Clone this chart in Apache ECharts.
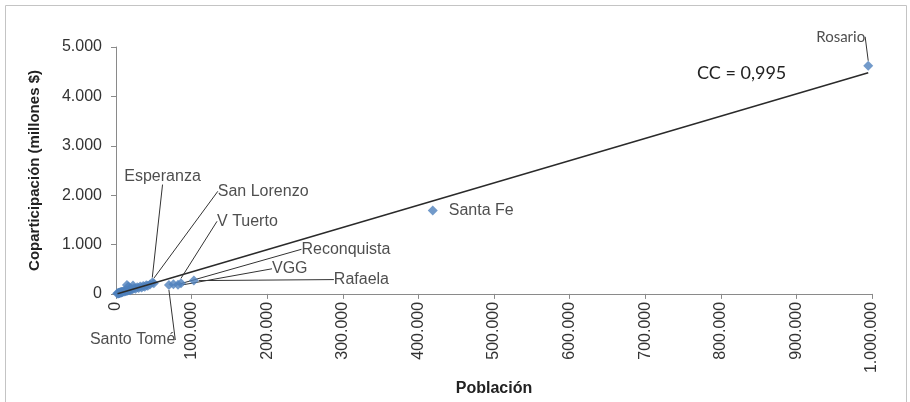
<!DOCTYPE html>
<html>
<head>
<meta charset="utf-8">
<script src="https://cdn.jsdelivr.net/npm/echarts@6/dist/echarts.min.js"></script>
<style>
  html, body { margin: 0; padding: 0; background: #fff; }
  #chart { width: 910px; height: 402px; }
</style>
</head>
<body>
<div id="chart"></div>
<script>
// municipios: poblacion / coparticipacion (millones $)
var cityNames = ['Rosario', 'Santa Fe', 'Rafaela', 'V Tuerto', 'VGG', 'Reconquista', 'Santo Tomé', 'San Lorenzo', 'Esperanza'];
var cityPop   = [995000, 419000, 103000, 86000, 82000, 76000, 70000, 50000, 48000];
var cityCopa  = [4620, 1690, 270, 215, 185, 195, 180, 215, 230];

// resto de localidades (sin etiqueta)
var otherPop  = [1500, 2500, 3000, 3500, 4000, 4500, 5000, 5500, 6000, 6500, 7000, 7500, 8000, 9000, 10000, 11000, 12000, 13000, 14000, 14500, 15000, 16000, 16500, 17000, 18000, 19000, 20000, 22000, 22500, 24000, 26000, 28000, 30000, 32000, 34000, 36000, 38000, 40000, 42000, 45000];
var otherCopa = [8, 15, 20, 10, 25, 18, 30, 22, 35, 28, 40, 30, 45, 38, 55, 48, 60, 52, 70, 180, 62, 80, 150, 75, 90, 72, 100, 95, 170, 115, 105, 135, 120, 150, 130, 160, 145, 175, 165, 190];

// linea de tendencia (extremos)
var trendPop  = [2000, 995000];
var trendCopa = [5, 4480];
var trendLabel = 'CC = 0,995';

var xTicksMax = 1000000, xInterval = 100000;
var yTicksMax = 5000, yInterval = 1000;

// desplazamiento de etiquetas (dx, dy)
var labelOffsets = {
    'Rosario': [-62, -29],
    'Santa Fe': [6, 0],
    'Rafaela': [130, -1],
    'V Tuerto': [26, -62],
    'VGG': [84, -16],
    'Reconquista': [118, -35],
    'Santo Tomé': [-89, 55],
    'San Lorenzo': [54, -92],
    'Esperanza': [-38, -106]
};

function fmtMiles(v) {
    return String(v).replace(/\B(?=(\d{3})+(?!\d))/g, '.');
}

var myChart = echarts.init(document.getElementById('chart'));

var blue = '#4F81BD';
var labelFont = 'Liberation Sans, Arial, sans-serif';

var namedData = cityNames.map(function (n, i) {
    var item = { name: n, value: [cityPop[i], cityCopa[i]] };
    if (n === 'Santa Fe') item.labelLine = { show: false };
    if (n === 'Rosario') item.label = { fontFamily: 'Lato', fontSize: 15 };
    return item;
});
var otherData = otherPop.map(function (p, i) { return [p, otherCopa[i]]; });

var option = {
    animation: false,
    grid: { left: 116, right: 38, top: 47, bottom: 104 },
    xAxis: {
        type: 'value',
        min: 0, max: xTicksMax, interval: xInterval,
        name: 'Población',
        nameLocation: 'middle',
        nameGap: 78,
        nameTextStyle: { fontFamily: labelFont, fontWeight: 'bold', fontSize: 16, color: '#222' },
        axisLine: { show: true, lineStyle: { color: '#8a8a8a' } },
        axisTick: { show: true, length: 5, lineStyle: { color: '#8a8a8a' } },
        axisLabel: { rotate: 90, margin: 8, fontFamily: labelFont, fontSize: 16, color: '#333', formatter: fmtMiles },
        splitLine: { show: false }
    },
    yAxis: {
        type: 'value',
        min: 0, max: yTicksMax, interval: yInterval,
        name: 'Coparticipación (millones $)',
        nameLocation: 'middle',
        nameGap: 74,
        nameTextStyle: { fontFamily: labelFont, fontWeight: 'bold', fontSize: 15, color: '#222' },
        axisLine: { show: true, lineStyle: { color: '#8a8a8a' } },
        axisTick: { show: true, length: 5, lineStyle: { color: '#8a8a8a' } },
        axisLabel: { margin: 14, fontFamily: labelFont, fontSize: 16, color: '#333', formatter: fmtMiles },
        splitLine: { show: false }
    },
    series: [{
        type: 'scatter',
        symbol: 'diamond',
        symbolSize: 10,
        itemStyle: { color: blue },
        data: otherData
    }, {
        type: 'scatter',
        symbol: 'diamond',
        symbolSize: 10,
        itemStyle: { color: blue },
        data: namedData,
        label: {
            show: true,
            position: 'right',
            distance: 5,
            formatter: '{b}',
            fontFamily: labelFont,
            fontSize: 16,
            color: '#222'
        },
        labelLine: { show: true, lineStyle: { color: '#333', width: 1 } },
        labelLayout: function (p) {
            var o = labelOffsets[cityNames[p.dataIndex]];
            return o ? { dx: o[0], dy: o[1] } : {};
        }
    }, {
        type: 'line',
        symbol: 'none',
        lineStyle: { color: '#2a2a2a', width: 1.5 },
        data: trendPop.map(function (p, i) { return [p, trendCopa[i]]; }),
        z: 3
    }],
    graphic: [{
        type: 'rect',
        shape: { x: 5.5, y: 5.5, width: 901, height: 420 },
        style: { fill: 'none', stroke: '#c4c4c4', lineWidth: 1 },
        silent: true
    }, {
        type: 'text',
        left: 697,
        top: 64,
        style: { text: trendLabel, font: '18px Lato', fill: '#222' }
    }]
};

myChart.setOption(option);
</script>
</body>
</html>
